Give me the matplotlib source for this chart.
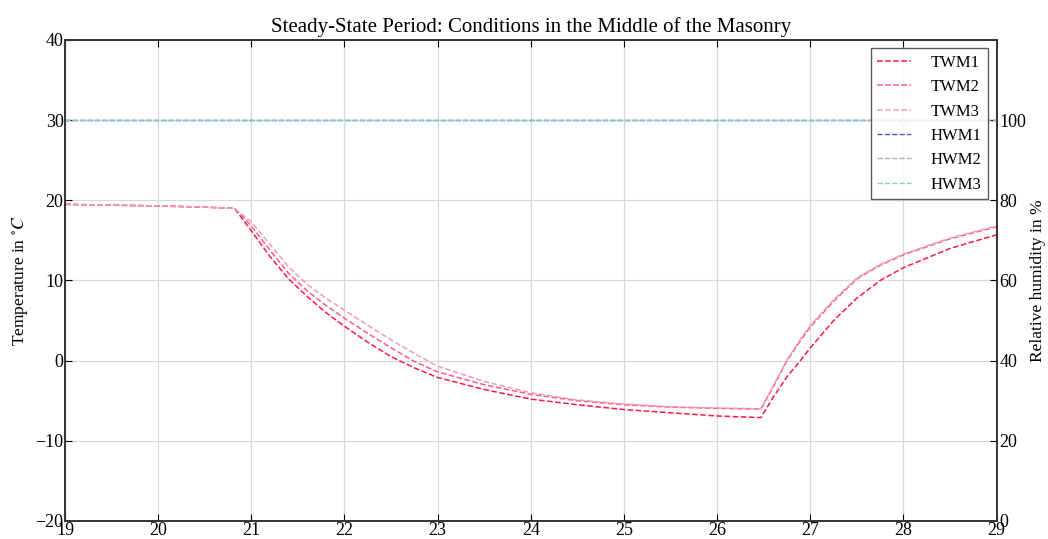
import matplotlib
matplotlib.use("Agg")
import matplotlib.pyplot as plt

plt.rcParams["font.family"] = ["Liberation Serif", "DejaVu Serif"]
plt.rcParams["mathtext.fontset"] = "stix"

# time axis (hours)
hours = [19, 19.5, 20, 20.5, 20.82, 21, 21.2, 21.4, 21.6, 21.8, 22, 22.25,
         22.5, 22.75, 23, 23.5, 24, 24.5, 25, 25.5, 26, 26.47, 26.6, 26.75,
         26.9, 27, 27.25, 27.5, 27.75, 28, 28.5, 29]

# temperatures in the middle of the masonry
twm1 = [19.5, 19.4, 19.3, 19.15, 19.0, 16.2, 13.0, 10.2, 8.0, 6.0, 4.3, 2.3,
        0.5, -0.9, -2.1, -3.6, -4.8, -5.5, -6.1, -6.5, -6.9, -7.1, -4.6, -2.0,
        0.1, 1.6, 5.0, 7.8, 10.0, 11.6, 14.0, 15.7]
twm2 = [19.5, 19.4, 19.3, 19.15, 19.0, 16.8, 13.8, 10.9, 8.7, 6.9, 5.3, 3.4,
        1.6, -0.1, -1.4, -3.0, -4.2, -5.0, -5.5, -5.8, -5.95, -6.05, -3.3, 0.0,
        2.6, 4.2, 7.4, 10.2, 11.9, 13.2, 15.2, 16.7]
twm3 = [19.5, 19.4, 19.3, 19.15, 19.0, 17.3, 14.5, 11.7, 9.5, 7.8, 6.3, 4.4,
        2.6, 0.9, -0.7, -2.6, -4.0, -4.9, -5.4, -5.75, -5.9, -6.0, -3.2, 0.1,
        2.8, 4.4, 7.6, 10.3, 12.0, 13.3, 15.3, 16.8]

# relative humidity (saturated throughout)
hwm1 = [100] * len(hours)
hwm2 = [100] * len(hours)
hwm3 = [100] * len(hours)

fig = plt.figure(figsize=(10.48, 5.39), dpi=100)
ax = fig.add_axes([0.062, 0.0334, 0.889, 0.8924])
ax2 = ax.twinx()

l1, = ax.plot(hours, twm1, "--", color="#ff1a3c", lw=1.1, label="TWM1")
l2, = ax.plot(hours, twm2, "--", color="#ff5c8a", lw=1.1, label="TWM2")
l3, = ax.plot(hours, twm3, "--", color="#e8a0b4", lw=1.1, label="TWM3")
h1, = ax2.plot(hours, hwm1, "--", color="#5555dd", lw=1.0, label="HWM1")
h2, = ax2.plot(hours, hwm2, "--", color="#b0b0b0", lw=1.0, label="HWM2")
h3, = ax2.plot(hours, hwm3, "--", color="#7fd0c8", lw=1.0, label="HWM3")

ax.set_xlim(19, 29)
ax.set_ylim(-20, 40)
ax2.set_ylim(0, 120)
ax.set_xticks(range(19, 30))
ax.set_yticks(range(-20, 41, 10))
ax2.set_yticks(range(0, 101, 20))

ax.grid(True, color="#d8d8d8", lw=0.9)
ax.set_axisbelow(True)

for a in (ax, ax2):
    a.tick_params(direction="in", labelsize=13, length=5, width=0.8)
    for s in a.spines.values():
        s.set_linewidth(1.2)
        s.set_color("#333333")
ax.tick_params(top=True, pad=1)
ax2.tick_params(pad=2)

ax.set_ylabel("Temperature in $^{\\circ}C$", fontsize=12.5, labelpad=4)
ax2.set_ylabel("Relative humidity in %", fontsize=12.5, labelpad=3)
ax.set_title("Steady-State Period: Conditions in the Middle of the Masonry",
             fontsize=15, pad=6)

leg = ax2.legend(handles=[l1, l2, l3, h1, h2, h3], loc="upper right",
                 fontsize=12, frameon=True, fancybox=False,
                 borderaxespad=0.5, handlelength=2.0, labelspacing=0.5,
                 handletextpad=1.2)
leg.get_frame().set_edgecolor("#333333")
leg.get_frame().set_linewidth(1.0)

fig.savefig("out.png", dpi=100)
